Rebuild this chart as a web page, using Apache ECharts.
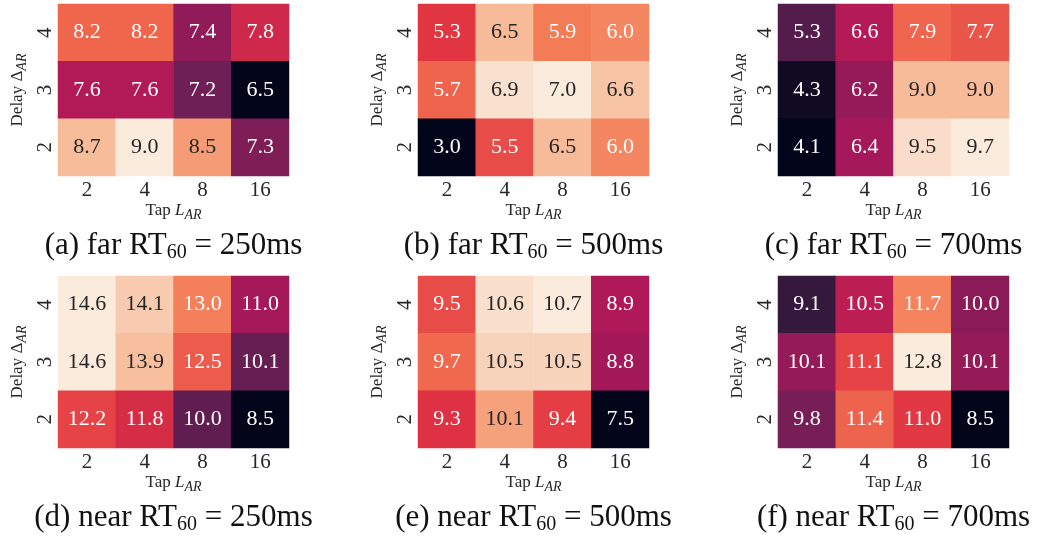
<!DOCTYPE html>
<html>
<head>
<meta charset="utf-8">
<title>Delay / tap heatmaps</title>
<script src="https://cdn.jsdelivr.net/npm/echarts@6/dist/echarts.min.js"></script>
<style>
  html, body { margin: 0; padding: 0; background: #ffffff; }
  #chart { width: 1037px; height: 537px; }
</style>
</head>
<body>
<div id="chart"></div>
<script>
// Tick labels
const tapTicks = ['2', '4', '8', '16'];
const delayTicks = ['2', '3', '4'];

// Each panel: rows are delay 4, 3, 2 (top to bottom), columns are taps 2, 4, 8, 16
const farRt250 = [
  [8.2, 8.2, 7.4, 7.8],
  [7.6, 7.6, 7.2, 6.5],
  [8.7, 9.0, 8.5, 7.3]
];
const farRt500 = [
  [5.3, 6.5, 5.9, 6.0],
  [5.7, 6.9, 7.0, 6.6],
  [3.0, 5.5, 6.5, 6.0]
];
const farRt700 = [
  [5.3, 6.6, 7.9, 7.7],
  [4.3, 6.2, 9.0, 9.0],
  [4.1, 6.4, 9.5, 9.7]
];
const nearRt250 = [
  [14.6, 14.1, 13.0, 11.0],
  [14.6, 13.9, 12.5, 10.1],
  [12.2, 11.8, 10.0, 8.5]
];
const nearRt500 = [
  [9.5, 10.6, 10.7, 8.9],
  [9.7, 10.5, 10.5, 8.8],
  [9.3, 10.1, 9.4, 7.5]
];
const nearRt700 = [
  [9.1, 10.5, 11.7, 10.0],
  [10.1, 11.1, 12.8, 10.1],
  [9.8, 11.4, 11.0, 8.5]
];

const captions = [
  '(a) far RT{sub|60} = 250ms',
  '(b) far RT{sub|60} = 500ms',
  '(c) far RT{sub|60} = 700ms',
  '(d) near RT{sub|60} = 250ms',
  '(e) near RT{sub|60} = 500ms',
  '(f) near RT{sub|60} = 700ms'
];

const panels = [farRt250, farRt500, farRt700, nearRt250, nearRt500, nearRt700];

// "rocket" colour map, evenly spaced stops
const rocket = ['#03051a', '#35193e', '#701f57', '#ad1759', '#e13342', '#f37651', '#f6b48f', '#faebdd'];

const FONT = '"Liberation Serif", "Times New Roman", serif';
const INK = '#262626';

function hexToRgb(h) {
  return [parseInt(h.slice(1, 3), 16), parseInt(h.slice(3, 5), 16), parseInt(h.slice(5, 7), 16)];
}
function rocketAt(t) {
  t = Math.max(0, Math.min(1, t));
  const p = t * (rocket.length - 1);
  const i = Math.min(Math.floor(p), rocket.length - 2);
  const f = p - i;
  const a = hexToRgb(rocket[i]), b = hexToRgb(rocket[i + 1]);
  return a.map((v, k) => v + (b[k] - v) * f);
}
function luminance(rgb) {
  const lin = rgb.map(v => {
    v /= 255;
    return v <= 0.03928 ? v / 12.92 : Math.pow((v + 0.055) / 1.055, 2.4);
  });
  return 0.2126 * lin[0] + 0.7152 * lin[1] + 0.0722 * lin[2];
}

const gridLefts = [58, 418, 778];
const gridTops = [4, 276];
const gridW = 231;
const gridH = 172;

const grid = [], xAxis = [], yAxis = [], visualMap = [], series = [], graphic = [];

panels.forEach((rows, idx) => {
  const col = idx % 3, row = Math.floor(idx / 3);
  const flat = rows.flat();
  const vmin = Math.min(...flat), vmax = Math.max(...flat);

  grid.push({ left: gridLefts[col], top: gridTops[row], width: gridW, height: gridH });

  xAxis.push({
    type: 'category', gridIndex: idx, data: tapTicks,
    axisLine: { show: false }, axisTick: { show: false }, splitLine: { show: false },
    axisLabel: { fontFamily: FONT, fontSize: 21, color: INK, margin: 4 },
    name: 'Tap {it|L}{sub|AR}', nameLocation: 'middle', nameGap: 24,
    nameTextStyle: {
      fontFamily: FONT, fontSize: 17, color: INK,
      rich: {
        it: { fontFamily: FONT, fontSize: 17, fontStyle: 'italic', color: INK },
        sub: { fontFamily: FONT, fontSize: 14, fontStyle: 'italic', color: INK, padding: [8, 0, 0, 0] }
      }
    }
  });

  yAxis.push({
    type: 'category', gridIndex: idx, data: delayTicks,
    axisLine: { show: false }, axisTick: { show: false }, splitLine: { show: false },
    axisLabel: { fontFamily: FONT, fontSize: 21, color: INK, rotate: 90, margin: 2 },
    name: 'Delay \u0394{sub|AR}', nameLocation: 'middle', nameGap: 29, nameRotate: 90,
    nameTextStyle: {
      fontFamily: FONT, fontSize: 17, color: INK,
      rich: {
        sub: { fontFamily: FONT, fontSize: 14, fontStyle: 'italic', color: INK, padding: [8, 0, 0, 0] }
      }
    }
  });

  visualMap.push({
    type: 'continuous', show: false, seriesIndex: idx, dimension: 2,
    min: vmin, max: vmax, inRange: { color: rocket }
  });

  const data = [];
  rows.forEach((r, ri) => {
    const yi = delayTicks.length - 1 - ri;
    r.forEach((v, xi) => {
      const t = vmax > vmin ? (v - vmin) / (vmax - vmin) : 0;
      const dark = luminance(rocketAt(t)) > 0.408;
      data.push({ value: [xi, yi, v], label: { color: dark ? INK : '#ffffff' } });
    });
  });

  series.push({
    type: 'heatmap', xAxisIndex: idx, yAxisIndex: idx, data,
    label: {
      show: true, fontFamily: FONT, fontSize: 22,
      formatter: p => p.value[2].toFixed(1)
    },
    emphasis: { disabled: true }
  });

  graphic.push({
    type: 'text',
    x: gridLefts[col] + gridW / 2,
    y: gridTops[row] + 241.5,
    style: {
      text: captions[idx],
      fontFamily: FONT, fontSize: 31, fill: '#111111',
      align: 'center', verticalAlign: 'middle',
      rich: {
        sub: { fontFamily: FONT, fontSize: 20, fill: '#111111', padding: [14, 0, 0, 0] }
      }
    }
  });
});

const chart = echarts.init(document.getElementById('chart'), null, { renderer: 'canvas' });
chart.setOption({
  animation: false,
  backgroundColor: '#ffffff',
  grid, xAxis, yAxis, visualMap, series, graphic
});
</script>
</body>
</html>
